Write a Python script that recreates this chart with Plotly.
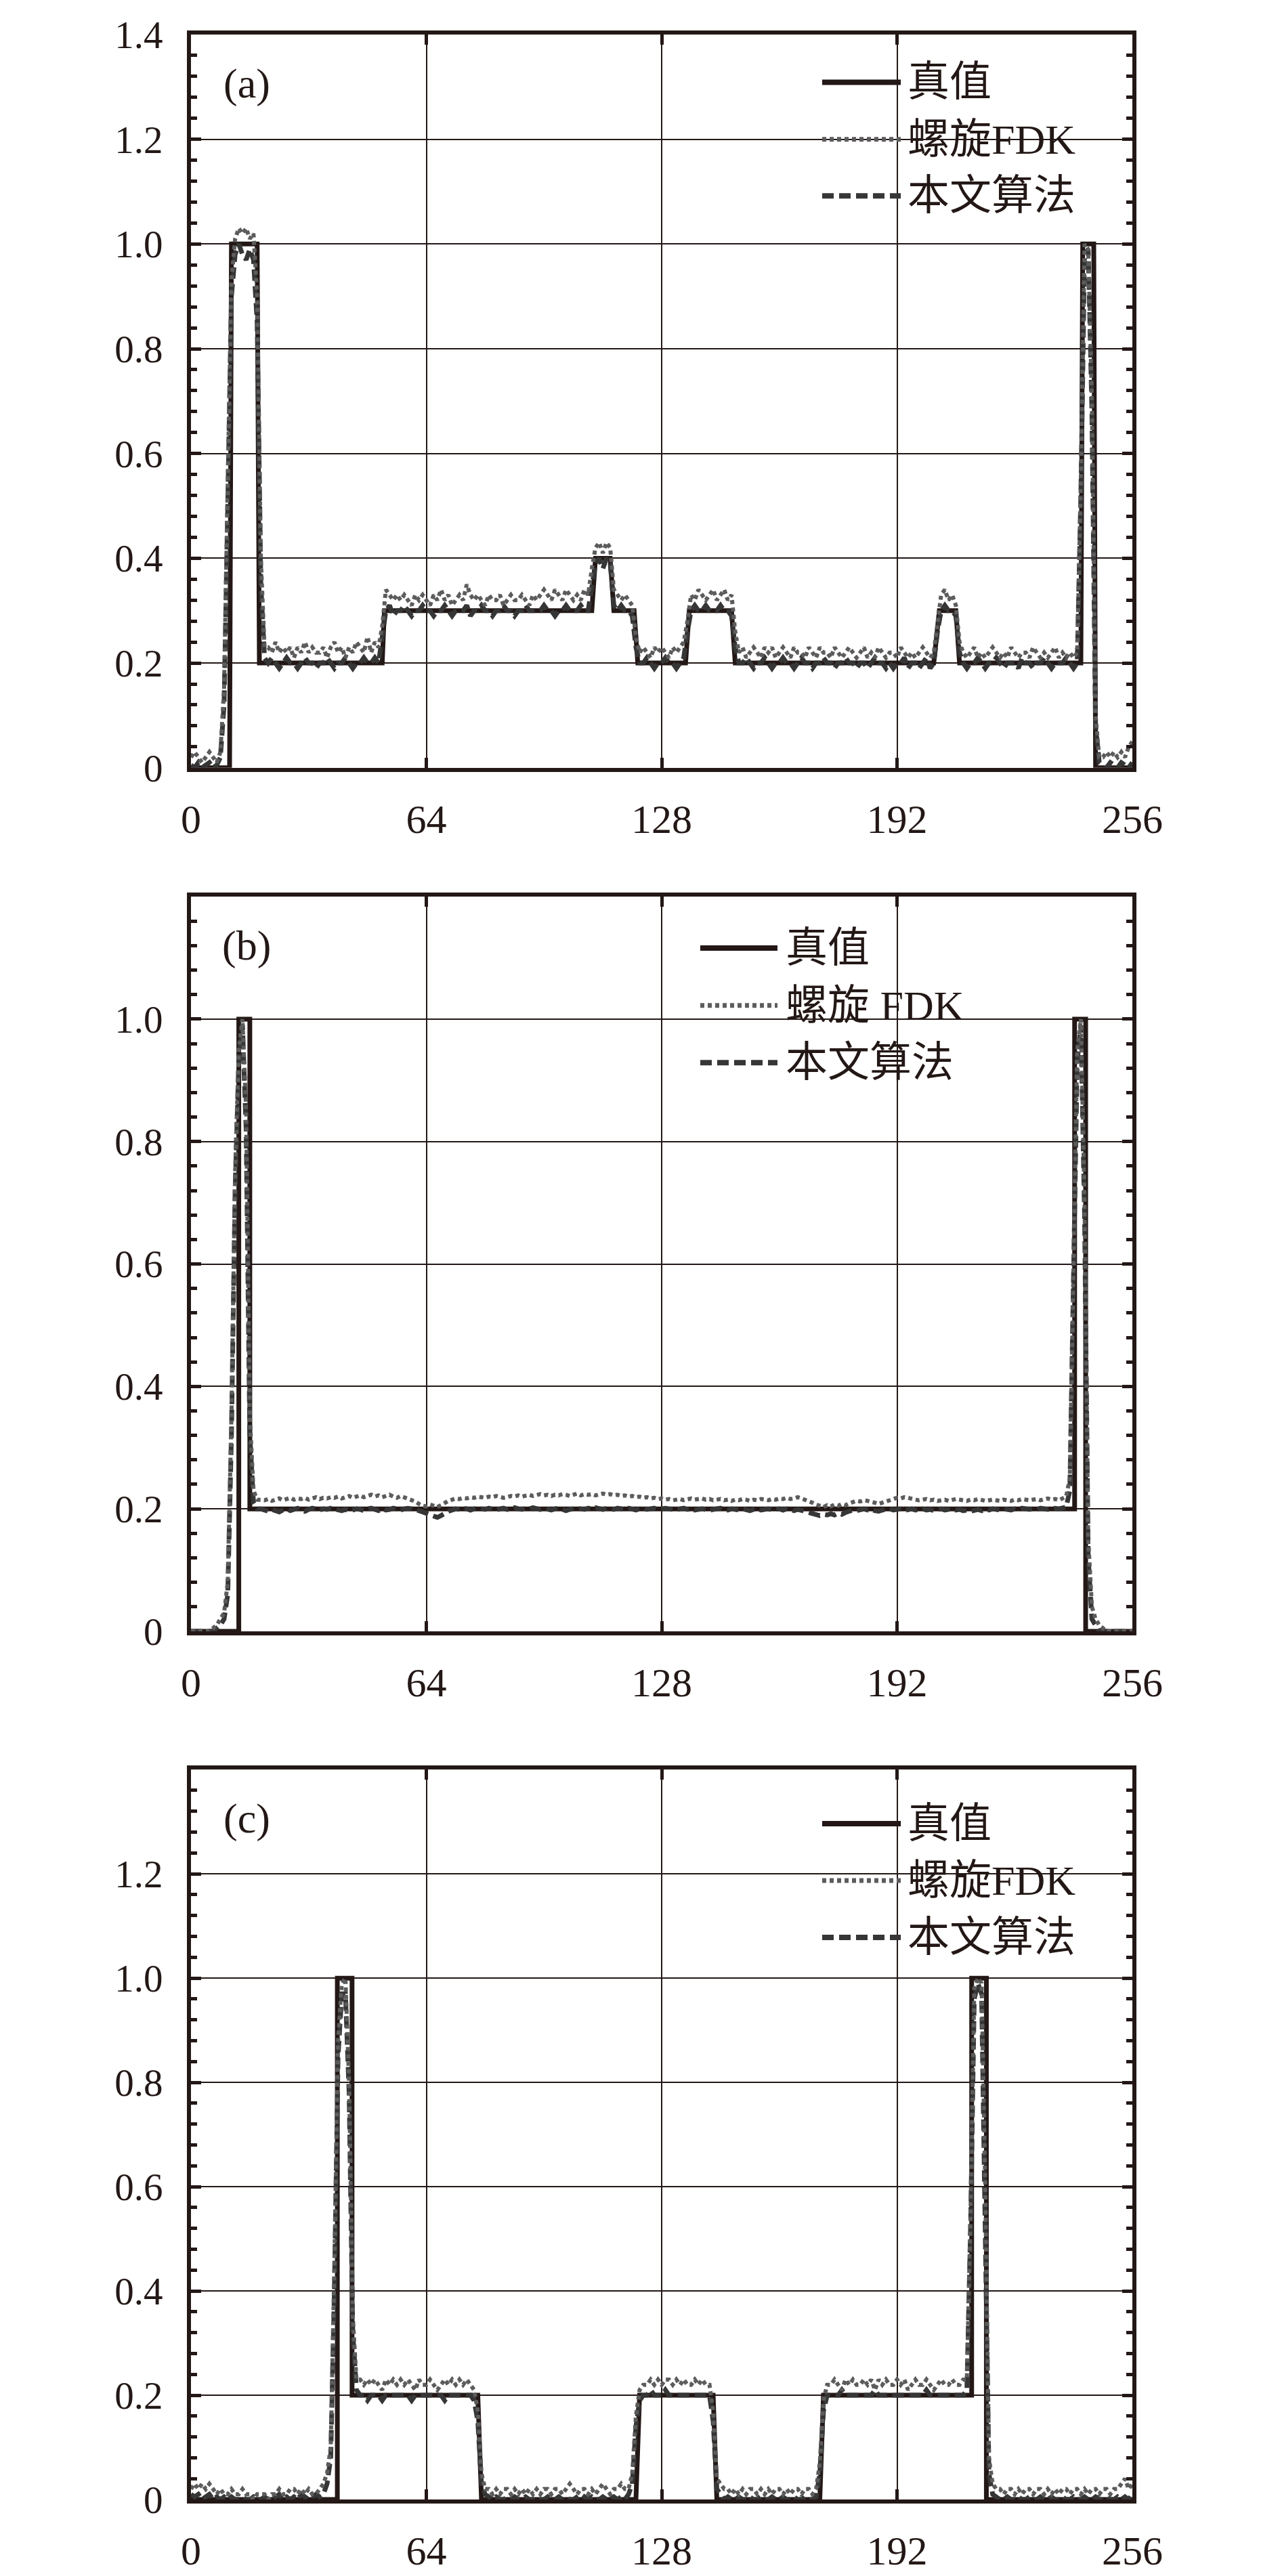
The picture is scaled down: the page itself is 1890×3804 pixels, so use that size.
import plotly.graph_objects as go

# ---------------- data ----------------
series_names = ["真值", "螺旋FDK", "本文算法"]
series_names_b = ["真值", "螺旋 FDK", "本文算法"]
panel_labels = ["(a)", "(b)", "(c)"]
x_tick_vals = [0, 64, 128, 192, 256]
x_tick_text = ["0", "64", "128", "192", "256"]
y_tick_vals_a = [0, 0.2, 0.4, 0.6, 0.8, 1.0, 1.2, 1.4]
y_tick_text_a = ["0", "0.2", "0.4", "0.6", "0.8", "1.0", "1.2", "1.4"]
y_tick_vals_b = [0, 0.2, 0.4, 0.6, 0.8, 1.0]
y_tick_text_b = ["0", "0.2", "0.4", "0.6", "0.8", "1.0"]
y_tick_vals_c = [0, 0.2, 0.4, 0.6, 0.8, 1.0, 1.2]
y_tick_text_c = ["0", "0.2", "0.4", "0.6", "0.8", "1.0", "1.2"]
y_max = [1.4, 1.2, 1.4]

# panel (a)
truth_a_x = [0, 10.5, 11, 18, 18.6, 52, 52.6, 109, 110, 114, 115, 120.5, 121.5, 134.5, 135.5, 147, 148,
             202, 203.5, 208, 209, 242, 242.5, 245.5, 246, 256]
truth_a_y = [0, 0, 1, 1, 0.2, 0.2, 0.3, 0.3, 0.4, 0.4, 0.3, 0.3, 0.2, 0.2, 0.3, 0.3, 0.2,
             0.2, 0.3, 0.3, 0.2, 0.2, 1, 1, 0, 0]
fdk_a = [
    0.02, 0.03, 0.02, 0.01, 0.02, 0.03, 0.02, 0.01, 0.03,
    0.15, 0.55, 0.93, 1.01, 1.03, 1.02, 1.03, 1.01, 1.02, 0.90, 0.40, 0.23,
    0.23, 0.22, 0.24, 0.22, 0.23, 0.22, 0.23, 0.21, 0.23, 0.22, 0.24, 0.22, 0.23, 0.22, 0.22, 0.23,
    0.21, 0.23, 0.24, 0.22, 0.23, 0.21, 0.23, 0.22, 0.24, 0.23, 0.22, 0.25, 0.22, 0.24, 0.23,
    0.27, 0.34, 0.33,
    0.32, 0.33, 0.32, 0.33, 0.32, 0.31, 0.33, 0.32, 0.33, 0.32, 0.31, 0.33, 0.32, 0.34, 0.32, 0.33,
    0.31, 0.32, 0.33, 0.32, 0.35, 0.33, 0.32, 0.33, 0.32, 0.31, 0.33, 0.32, 0.32, 0.33, 0.31, 0.32,
    0.33, 0.32, 0.32, 0.33, 0.32, 0.31, 0.33, 0.32, 0.33, 0.34, 0.33, 0.32, 0.34, 0.33, 0.32, 0.34,
    0.33, 0.32, 0.33, 0.32, 0.34, 0.33,
    0.38, 0.42, 0.43, 0.41, 0.43, 0.42, 0.34, 0.33, 0.32, 0.33, 0.32, 0.31, 0.25,
    0.22, 0.23, 0.22, 0.21, 0.23, 0.22, 0.23, 0.22, 0.21, 0.23, 0.22, 0.23, 0.24,
    0.28,
    0.33, 0.32, 0.34, 0.33, 0.32, 0.33, 0.34, 0.32, 0.33, 0.34, 0.32, 0.33,
    0.26,
    0.22, 0.23, 0.21, 0.22, 0.23, 0.22, 0.21, 0.23, 0.22, 0.23, 0.21, 0.22, 0.23, 0.22, 0.21, 0.23,
    0.22, 0.22, 0.21, 0.23, 0.22, 0.21, 0.23, 0.22, 0.22, 0.21, 0.23, 0.22, 0.21, 0.22, 0.23, 0.22,
    0.21, 0.22, 0.23, 0.21, 0.22, 0.21, 0.23, 0.22, 0.21, 0.22, 0.22, 0.21, 0.23, 0.22, 0.21, 0.22,
    0.21, 0.22, 0.23, 0.22, 0.21, 0.22,
    0.28, 0.33, 0.34, 0.32, 0.33, 0.31, 0.24,
    0.22, 0.21, 0.22, 0.23, 0.21, 0.22, 0.21, 0.22, 0.23, 0.22, 0.21, 0.22, 0.21, 0.23, 0.22, 0.21,
    0.22, 0.22, 0.21, 0.23, 0.22, 0.21, 0.22, 0.21, 0.22, 0.23, 0.21, 0.22, 0.21, 0.22, 0.21, 0.22,
    0.55, 1.00, 0.99, 0.70, 0.10, 0.02,
    0.02, 0.03, 0.02, 0.03, 0.02, 0.03, 0.02, 0.04, 0.05,
]
ours_a = [
    0.005, 0.0, 0.01, 0.0, 0.005, 0.01, 0.0, 0.005, 0.02,
    0.12, 0.50, 0.90, 0.98, 1.00, 0.98, 0.97, 0.99, 0.97, 0.85, 0.35, 0.21,
    0.20, 0.21, 0.20, 0.19, 0.20, 0.21, 0.20, 0.20, 0.19, 0.20, 0.21, 0.20, 0.20, 0.19, 0.20, 0.20,
    0.21, 0.20, 0.19, 0.20, 0.20, 0.21, 0.20, 0.19, 0.20, 0.20, 0.21, 0.20, 0.20, 0.21, 0.20,
    0.25, 0.30, 0.31,
    0.29, 0.30, 0.30, 0.31, 0.30, 0.29, 0.30, 0.30, 0.31, 0.30, 0.30, 0.29, 0.30, 0.30, 0.31, 0.30,
    0.29, 0.30, 0.30, 0.30, 0.31, 0.29, 0.30, 0.30, 0.31, 0.30, 0.30, 0.29, 0.30, 0.30, 0.31, 0.30,
    0.30, 0.29, 0.30, 0.30, 0.31, 0.30, 0.30, 0.30, 0.30, 0.31, 0.30, 0.30, 0.29, 0.30, 0.30, 0.31,
    0.30, 0.30, 0.30, 0.31, 0.30, 0.30,
    0.35, 0.39, 0.40, 0.38, 0.40, 0.39, 0.31, 0.30, 0.31, 0.30, 0.30, 0.29, 0.23,
    0.20, 0.20, 0.21, 0.20, 0.19, 0.20, 0.20, 0.21, 0.20, 0.20, 0.19, 0.20, 0.21,
    0.26,
    0.30, 0.31, 0.30, 0.30, 0.31, 0.30, 0.30, 0.30, 0.31, 0.30, 0.30, 0.29,
    0.23,
    0.20, 0.20, 0.21, 0.20, 0.19, 0.20, 0.20, 0.21, 0.20, 0.19, 0.20, 0.20, 0.21, 0.20, 0.20, 0.19,
    0.20, 0.21, 0.20, 0.20, 0.19, 0.20, 0.20, 0.21, 0.20, 0.20, 0.19, 0.20, 0.20, 0.21, 0.20, 0.20,
    0.19, 0.20, 0.20, 0.19, 0.20, 0.21, 0.20, 0.20, 0.19, 0.20, 0.19, 0.20, 0.20, 0.21, 0.19, 0.20,
    0.20, 0.19, 0.20, 0.21, 0.19, 0.20,
    0.26, 0.30, 0.31, 0.30, 0.30, 0.29, 0.22,
    0.20, 0.19, 0.20, 0.20, 0.21, 0.20, 0.19, 0.20, 0.20, 0.21, 0.20, 0.19, 0.20, 0.20, 0.20, 0.19,
    0.21, 0.20, 0.20, 0.19, 0.20, 0.20, 0.21, 0.20, 0.19, 0.20, 0.20, 0.20, 0.21, 0.20, 0.19, 0.20,
    0.52, 0.98, 0.99, 0.68, 0.08, 0.01,
    0.005, 0.0, 0.01, 0.005, 0.0, 0.01, 0.005, 0.0, 0.01,
]

# panel (b)
truth_b_x = [0, 13, 13, 16, 16, 240.3, 240.3, 243.3, 243.3, 256]
truth_b_y = [0, 0, 1, 1, 0.2, 0.2, 1, 1, 0, 0]
fdk_b = [
    0.0, 0.0, 0.0, 0.0, 0.0, 0.0, 0.005, 0.01, 0.02,
    0.03, 0.08, 0.35, 0.75, 0.95, 1.0, 0.85, 0.35, 0.23, 0.215,
    0.215, 0.214, 0.216, 0.213, 0.215, 0.217, 0.214, 0.216, 0.218, 0.215,
    0.217, 0.216, 0.218, 0.215, 0.217, 0.219, 0.216, 0.218, 0.217, 0.219,
    0.218, 0.220, 0.217, 0.219, 0.221, 0.218, 0.220, 0.222, 0.219, 0.221,
    0.223, 0.220, 0.222, 0.219, 0.221, 0.223, 0.220, 0.218, 0.221, 0.219,
    0.217, 0.215, 0.212, 0.208, 0.205, 0.204, 0.207, 0.205, 0.203, 0.206,
    0.210, 0.213, 0.215, 0.217, 0.216, 0.218, 0.217, 0.219, 0.218, 0.220,
    0.219, 0.218, 0.220, 0.219, 0.221, 0.220, 0.218, 0.219, 0.221, 0.220,
    0.222, 0.220, 0.221, 0.223, 0.221, 0.222, 0.224, 0.222, 0.223, 0.221,
    0.223, 0.222, 0.224, 0.223, 0.221, 0.223, 0.225, 0.222, 0.224, 0.223,
    0.224, 0.222, 0.223, 0.225, 0.223, 0.224, 0.222, 0.223, 0.221, 0.222,
    0.220, 0.221, 0.219, 0.220, 0.218, 0.219, 0.217, 0.218, 0.216, 0.217,
    0.215, 0.216, 0.214, 0.215, 0.216, 0.214, 0.215, 0.217, 0.215, 0.216,
    0.217, 0.215, 0.216, 0.214, 0.215, 0.216, 0.214, 0.215, 0.213, 0.215,
    0.214, 0.216, 0.215, 0.213, 0.215, 0.214, 0.216, 0.215, 0.214, 0.216,
    0.215, 0.217, 0.216, 0.218, 0.216, 0.217, 0.219, 0.217, 0.215, 0.213,
    0.210, 0.207, 0.205, 0.203, 0.206, 0.204, 0.207, 0.205, 0.208, 0.206,
    0.209, 0.211, 0.213, 0.212, 0.214, 0.213, 0.212, 0.210, 0.208, 0.210,
    0.212, 0.214, 0.216, 0.218, 0.217, 0.219, 0.218, 0.216, 0.215, 0.214,
    0.215, 0.216, 0.214, 0.215, 0.213, 0.214, 0.215, 0.213, 0.214, 0.216,
    0.215, 0.214, 0.213, 0.215, 0.214, 0.216, 0.215, 0.213, 0.214, 0.215,
    0.214, 0.213, 0.215, 0.214, 0.213, 0.215, 0.214, 0.216, 0.215, 0.214,
    0.215, 0.216, 0.214, 0.215, 0.217, 0.215, 0.216, 0.214, 0.218, 0.220,
    0.25,
    0.60, 0.95, 1.00, 0.70, 0.15, 0.04, 0.02, 0.01,
    0.005, 0.0, 0.0, 0.0, 0.0, 0.0, 0.0, 0.0, 0.0,
]
ours_b = [
    0.0, 0.0, 0.0, 0.0, 0.0, 0.0, 0.0, 0.005, 0.01,
    0.02, 0.06, 0.32, 0.72, 0.93, 0.99, 0.82, 0.32, 0.21, 0.20,
    0.200, 0.198, 0.196, 0.199, 0.197, 0.195, 0.198, 0.200, 0.197, 0.199,
    0.201, 0.198, 0.196, 0.199, 0.201, 0.200, 0.198, 0.200, 0.199, 0.201,
    0.200, 0.198, 0.197, 0.199, 0.196, 0.198, 0.200, 0.199, 0.197, 0.200,
    0.201, 0.199, 0.197, 0.200, 0.198, 0.199, 0.201, 0.200, 0.198, 0.200,
    0.201, 0.200, 0.199, 0.197, 0.195, 0.193, 0.190, 0.187, 0.186, 0.189,
    0.193, 0.196, 0.198, 0.200, 0.199, 0.201, 0.200, 0.198, 0.200, 0.201,
    0.200, 0.199, 0.201, 0.200, 0.198, 0.200, 0.201, 0.199, 0.200, 0.202,
    0.200, 0.199, 0.201, 0.200, 0.202, 0.200, 0.199, 0.201, 0.200, 0.198,
    0.200, 0.201, 0.199, 0.197, 0.199, 0.200, 0.201, 0.200, 0.199, 0.201,
    0.200, 0.202, 0.200, 0.199, 0.201, 0.200, 0.199, 0.201, 0.200, 0.199,
    0.201, 0.200, 0.198, 0.200, 0.201, 0.199, 0.200, 0.201, 0.199, 0.200,
    0.201, 0.200, 0.199, 0.198, 0.200, 0.201, 0.199, 0.200, 0.198, 0.199,
    0.200, 0.199, 0.197, 0.199, 0.200, 0.201, 0.199, 0.198, 0.200, 0.199,
    0.198, 0.200, 0.199, 0.197, 0.199, 0.200, 0.198, 0.199, 0.200, 0.198,
    0.199, 0.200, 0.198, 0.200, 0.199, 0.197, 0.199, 0.198, 0.196, 0.194,
    0.192, 0.190, 0.189, 0.191, 0.190, 0.192, 0.190, 0.193, 0.191, 0.194,
    0.196, 0.198, 0.197, 0.199, 0.200, 0.198, 0.199, 0.197, 0.196, 0.198,
    0.199, 0.200, 0.198, 0.199, 0.200, 0.197, 0.199, 0.200, 0.198, 0.199,
    0.200, 0.198, 0.199, 0.197, 0.199, 0.200, 0.198, 0.199, 0.200, 0.198,
    0.199, 0.197, 0.198, 0.196, 0.198, 0.199, 0.197, 0.199, 0.198, 0.200,
    0.199, 0.198, 0.200, 0.199, 0.198, 0.200, 0.199, 0.201, 0.200, 0.199,
    0.200, 0.199, 0.201, 0.200, 0.199, 0.200, 0.201, 0.200, 0.202, 0.203,
    0.23,
    0.58, 0.93, 0.99, 0.68, 0.12, 0.02, 0.01, 0.0,
    0.0, 0.0, 0.0, 0.0, 0.0, 0.0, 0.0, 0.0, 0.0,
]

# panel (c)
truth_c_x = [0, 39.8, 39.8, 43.8, 43.8, 78, 79, 121, 122, 142, 143, 171, 172,
             212.3, 212.3, 216.3, 216.3, 256]
truth_c_y = [0, 0, 1, 1, 0.2, 0.2, 0, 0, 0.2, 0.2, 0, 0, 0.2,
             0.2, 1, 1, 0, 0]
fdk_c = [
    0.02, 0.03, 0.02, 0.03, 0.02, 0.03, 0.02, 0.01, 0.02, 0.01,
    0.01, 0.02, 0.01, 0.01, 0.02, 0.01, 0.01, 0.00, 0.01, 0.01,
    0.01, 0.00, 0.01, 0.01, 0.02, 0.01, 0.01, 0.02, 0.02, 0.01,
    0.02, 0.01, 0.02, 0.01, 0.01, 0.02, 0.03, 0.05,
    0.10, 0.45, 0.88, 0.99, 1.00, 0.80, 0.35, 0.23,
    0.23, 0.22, 0.23, 0.22, 0.23, 0.22, 0.21, 0.23, 0.22, 0.23,
    0.22, 0.23, 0.22, 0.23, 0.22, 0.21, 0.23, 0.22, 0.22, 0.23,
    0.22, 0.21, 0.22, 0.23, 0.22, 0.23, 0.22, 0.23, 0.22, 0.23, 0.22, 0.21,
    0.17, 0.05, 0.02,
    0.02, 0.01, 0.02, 0.01, 0.02, 0.02, 0.01, 0.02, 0.01, 0.02,
    0.01, 0.02, 0.01, 0.02, 0.01, 0.02, 0.02, 0.01, 0.02, 0.02,
    0.01, 0.02, 0.03, 0.02, 0.01, 0.02, 0.02, 0.01, 0.02, 0.01,
    0.02, 0.03, 0.02, 0.01, 0.02, 0.02, 0.03, 0.02, 0.02,
    0.05, 0.16, 0.21,
    0.22, 0.22, 0.23, 0.22, 0.23, 0.22, 0.23, 0.23, 0.22, 0.23,
    0.22, 0.23, 0.22, 0.22, 0.23, 0.22, 0.23, 0.22, 0.22,
    0.17, 0.04, 0.03,
    0.02, 0.02, 0.01, 0.02, 0.01, 0.02, 0.01, 0.02, 0.02, 0.01,
    0.02, 0.01, 0.02, 0.01, 0.02, 0.02, 0.01, 0.02, 0.01, 0.02,
    0.02, 0.01, 0.02, 0.02, 0.01, 0.02,
    0.07, 0.19, 0.22,
    0.22, 0.23, 0.22, 0.21, 0.23, 0.22, 0.23, 0.22, 0.22, 0.23,
    0.22, 0.23, 0.21, 0.23, 0.22, 0.23, 0.22, 0.22, 0.23, 0.22,
    0.23, 0.21, 0.22, 0.23, 0.22, 0.22, 0.23, 0.22, 0.21, 0.22,
    0.23, 0.22, 0.22, 0.23, 0.22, 0.22, 0.23, 0.23,
    0.55, 0.98, 1.00, 0.99, 0.60, 0.08, 0.03,
    0.02, 0.02, 0.01, 0.02, 0.02, 0.01, 0.02, 0.01, 0.02, 0.02,
    0.01, 0.02, 0.02, 0.01, 0.02, 0.01, 0.02, 0.01, 0.02, 0.02,
    0.01, 0.02, 0.02, 0.01, 0.02, 0.01, 0.02, 0.02, 0.01, 0.02,
    0.02, 0.01, 0.02, 0.02, 0.03, 0.04, 0.02, 0.03,
]
ours_c = [
    0.01, 0.005, 0.01, 0.0, 0.005, 0.01, 0.0, 0.005, 0.0, 0.005,
    0.0, 0.005, 0.0, 0.0, 0.005, 0.0, 0.0, 0.005, 0.0, 0.0,
    0.005, 0.0, 0.0, 0.005, 0.01, 0.0, 0.005, 0.0, 0.005, 0.0,
    0.01, 0.005, 0.0, 0.005, 0.01, 0.005, 0.01, 0.03,
    0.08, 0.40, 0.85, 0.97, 0.97, 0.78, 0.32, 0.21,
    0.20, 0.20, 0.19, 0.20, 0.20, 0.20, 0.19, 0.20, 0.20, 0.20,
    0.20, 0.20, 0.20, 0.20, 0.19, 0.20, 0.20, 0.20, 0.20, 0.20,
    0.20, 0.20, 0.20, 0.19, 0.20, 0.20, 0.20, 0.20, 0.20, 0.20, 0.20, 0.19,
    0.15, 0.03, 0.01,
    0.005, 0.0, 0.005, 0.0, 0.0, 0.005, 0.0, 0.005, 0.0, 0.0,
    0.005, 0.0, 0.0, 0.005, 0.0, 0.0, 0.005, 0.0, 0.0, 0.005,
    0.0, 0.005, 0.0, 0.0, 0.005, 0.01, 0.005, 0.0, 0.005, 0.0,
    0.0, 0.005, 0.0, 0.0, 0.005, 0.0, 0.005, 0.0, 0.01,
    0.03, 0.14, 0.19,
    0.20, 0.20, 0.21, 0.20, 0.20, 0.20, 0.21, 0.20, 0.20, 0.20,
    0.20, 0.20, 0.20, 0.20, 0.20, 0.20, 0.20, 0.20, 0.20,
    0.15, 0.02, 0.01,
    0.0, 0.005, 0.0, 0.0, 0.005, 0.0, 0.0, 0.005, 0.0, 0.0,
    0.005, 0.0, 0.0, 0.005, 0.0, 0.0, 0.005, 0.0, 0.0, 0.005,
    0.0, 0.0, 0.005, 0.0, 0.0, 0.005,
    0.05, 0.17, 0.20,
    0.20, 0.20, 0.20, 0.21, 0.20, 0.20, 0.20, 0.20, 0.20, 0.20,
    0.20, 0.20, 0.21, 0.20, 0.20, 0.20, 0.20, 0.20, 0.20, 0.20,
    0.20, 0.20, 0.20, 0.20, 0.20, 0.20, 0.21, 0.20, 0.20, 0.20,
    0.20, 0.20, 0.20, 0.20, 0.20, 0.20, 0.20, 0.21,
    0.52, 0.96, 0.99, 0.97, 0.55, 0.05, 0.01,
    0.005, 0.0, 0.0, 0.005, 0.0, 0.0, 0.005, 0.0, 0.0, 0.005,
    0.0, 0.0, 0.005, 0.0, 0.0, 0.005, 0.0, 0.0, 0.005, 0.0,
    0.0, 0.005, 0.0, 0.0, 0.005, 0.0, 0.0, 0.005, 0.0, 0.0,
    0.005, 0.0, 0.0, 0.005, 0.0, 0.005, 0.0, 0.01,
]

# ---------------- styling ----------------
W, H = 1890, 3804
PLOT_L, PLOT_R = 274, 1664
PANEL_PX = [(41, 1133), (1325, 2419), (2625, 3712)]
TOP, BOT = PANEL_PX[0][0], PANEL_PX[-1][1]
PH = BOT - TOP

C_TRUTH = "#231816"
C_FDK = "#5c5c5c"
C_OURS = "#363636"
DASH_FDK = "6px,5px"
DASH_OURS = "17px,8px"
LW_TRUTH, LW_FDK, LW_OURS = 7, 6, 7
AX = "#231816"
SERIF = "Liberation Serif, Noto Sans CJK SC, serif"

panels = [
    dict(tx=truth_a_x, ty=truth_a_y, fdk=fdk_a, ours=ours_a, yv=y_tick_vals_a, yt=y_tick_text_a,
         names=series_names, leg_x=(0.6705, 0.754, 0.760), leg_y=(0.935, 0.857, 0.780)),
    dict(tx=truth_b_x, ty=truth_b_y, fdk=fdk_b, ours=ours_b, yv=y_tick_vals_b, yt=y_tick_text_b,
         names=series_names_b, leg_x=(0.541, 0.623, 0.630), leg_y=(0.930, 0.852, 0.774)),
    dict(tx=truth_c_x, ty=truth_c_y, fdk=fdk_c, ours=ours_c, yv=y_tick_vals_c, yt=y_tick_text_c,
         names=series_names, leg_x=(0.6705, 0.754, 0.760), leg_y=(0.926, 0.848, 0.770)),
]

fig = go.Figure()
layout = dict(
    width=W, height=H,
    margin=dict(l=PLOT_L, r=W - PLOT_R, t=TOP, b=H - BOT, pad=0),
    paper_bgcolor="white", plot_bgcolor="white",
    showlegend=False,
    font=dict(family=SERIF, color=AX, size=56),
)
shapes, annotations = [], []

for i, p in enumerate(panels):
    sfx = "" if i == 0 else str(i + 1)
    xr, yr = "x" + sfx, "y" + sfx
    top, bot = PANEL_PX[i]
    dom = [(BOT - bot) / PH, (BOT - top) / PH]
    xs = list(range(len(p["fdk"])))
    xo = list(range(len(p["ours"])))
    fig.add_trace(go.Scatter(x=p["tx"], y=p["ty"], mode="lines", xaxis=xr, yaxis=yr,
                             line=dict(color=C_TRUTH, width=LW_TRUTH), name=p["names"][0]))
    fig.add_trace(go.Scatter(x=xo, y=p["ours"], mode="lines", xaxis=xr, yaxis=yr,
                             line=dict(color=C_OURS, width=LW_OURS, dash=DASH_OURS), name=p["names"][2]))
    fig.add_trace(go.Scatter(x=xs, y=p["fdk"], mode="lines", xaxis=xr, yaxis=yr,
                             line=dict(color=C_FDK, width=LW_FDK, dash=DASH_FDK), name=p["names"][1]))

    layout["xaxis" + sfx] = dict(
        domain=[0, 1], anchor=yr, range=[0, 256],
        tickvals=x_tick_vals, ticktext=x_tick_text,
        showline=True, linewidth=6, linecolor=AX, mirror="ticks",
        ticks="inside", ticklen=15, tickwidth=5, tickcolor=AX,
        showgrid=True, gridcolor=AX, gridwidth=1.8, zeroline=False,
        tickfont=dict(family=SERIF, size=60, color=AX), ticklabelstandoff=18,
    )
    layout["yaxis" + sfx] = dict(
        domain=dom, anchor=xr, range=[0, y_max[i]],
        tickvals=p["yv"], ticktext=p["yt"],
        showline=True, linewidth=6, linecolor=AX, mirror="ticks",
        ticks="inside", ticklen=15, tickwidth=5, tickcolor=AX,
        minor=dict(dtick=0.04, tick0=0, ticks="inside", ticklen=9, tickwidth=5, tickcolor=AX, showgrid=False),
        showgrid=True, gridcolor=AX, gridwidth=1.8, zeroline=False,
        tickfont=dict(family=SERIF, size=57, color=AX), ticklabelstandoff=24,
    )

    xd, yd = xr + " domain", yr + " domain"
    annotations.append(dict(text=panel_labels[i], xref=xd, yref=yd, x=0.059, y=0.933,
                            xanchor="center", yanchor="middle", showarrow=False,
                            font=dict(family=SERIF, size=62, color=AX)))
    lx0, lx1, tx = p["leg_x"]
    styles = [(C_TRUTH, None, 8), (C_FDK, DASH_FDK, 7), (C_OURS, DASH_OURS, 8)]
    for k in range(3):
        col, dsh, w = styles[k]
        ln = dict(color=col, width=w)
        if dsh:
            ln["dash"] = dsh
        shapes.append(dict(type="line", xref=xd, yref=yd, x0=lx0, x1=lx1,
                           y0=p["leg_y"][k], y1=p["leg_y"][k], line=ln))
        annotations.append(dict(text=p["names"][k], xref=xd, yref=yd, x=tx, y=p["leg_y"][k],
                                xanchor="left", yanchor="middle", showarrow=False,
                                font=dict(family=SERIF, size=62, color=AX)))

layout["shapes"] = shapes
layout["annotations"] = annotations
fig.update_layout(**layout)
fig.write_html("out.html")
